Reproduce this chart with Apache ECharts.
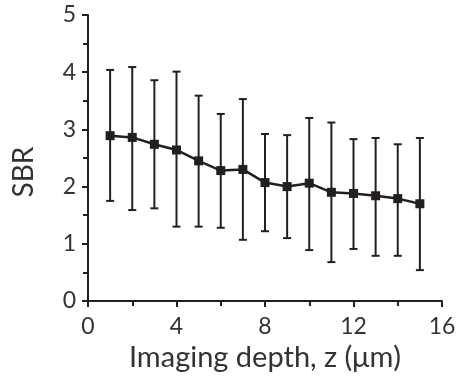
<!DOCTYPE html>
<html>
<head>
<meta charset="utf-8">
<script src="https://cdn.jsdelivr.net/npm/echarts@6/dist/echarts.min.js"></script>
<style>
  html, body { margin: 0; padding: 0; background: #fff; }
  #chart_container { width: 460px; height: 381px; }
</style>
</head>
<body>
<div id="chart_container"></div>
<script>
var depth = [1, 2, 3, 4, 5, 6, 7, 8, 9, 10, 11, 12, 13, 14, 15];
var sbrMean = [2.89, 2.86, 2.74, 2.64, 2.45, 2.28, 2.30, 2.07, 2.00, 2.06, 1.90, 1.88, 1.84, 1.79, 1.70];
var errHigh = [4.04, 4.09, 3.86, 4.01, 3.59, 3.27, 3.53, 2.92, 2.90, 3.20, 3.12, 2.83, 2.85, 2.74, 2.85];
var errLow = [1.75, 1.59, 1.62, 1.30, 1.30, 1.28, 1.07, 1.22, 1.10, 0.89, 0.68, 0.91, 0.79, 0.79, 0.54];

var ink = "#231f20";
var textColor = "#333333";
var fontName = "Lato";

var dom = document.getElementById("chart_container");
var myChart = echarts.init(dom, null, { renderer: "canvas" });

var meanData = depth.map(function (d, i) { return [d, sbrMean[i]]; });
var errData = depth.map(function (d, i) { return [d, errLow[i], errHigh[i]]; });

var option = {
  animation: false,
  grid: { left: 88, right: 18, top: 15, bottom: 80, outerBoundsMode: "none" },
  xAxis: {
    type: "value",
    min: 0,
    max: 16,
    interval: 4,
    name: "Imaging depth, z (\u03bcm)",
    nameLocation: "middle",
    nameGap: 39,
    nameTextStyle: { fontFamily: fontName, fontSize: 29, color: textColor },
    axisLine: { lineStyle: { color: ink, width: 2 } },
    axisTick: { inside: false, length: 6, lineStyle: { color: ink, width: 2 } },
    minorTick: { show: true, splitNumber: 2, length: 5, lineStyle: { color: ink, width: 2 } },
    axisLabel: { fontFamily: fontName, fontSize: 23, color: textColor, margin: 14 },
    splitLine: { show: false }
  },
  yAxis: {
    type: "value",
    min: 0,
    max: 5,
    interval: 1,
    name: "SBR",
    nameLocation: "middle",
    nameGap: 50,
    nameTextStyle: { fontFamily: fontName, fontSize: 28, color: textColor, padding: [0, 28, 0, 0] },
    axisLine: { show: true, lineStyle: { color: ink, width: 2 } },
    axisTick: { show: true, inside: false, length: 6, lineStyle: { color: ink, width: 2 } },
    minorTick: { show: true, splitNumber: 2, length: 5, lineStyle: { color: ink, width: 2 } },
    axisLabel: { fontFamily: fontName, fontSize: 23, color: textColor, margin: 12 },
    splitLine: { show: false }
  },
  series: [
    {
      type: "custom",
      data: errData,
      z: 2,
      renderItem: function (params, api) {
        var x = api.value(0);
        var lo = api.coord([x, api.value(1)]);
        var hi = api.coord([x, api.value(2)]);
        var cap = 4;
        var st = { stroke: ink, lineWidth: 2 };
        return {
          type: "group",
          children: [
            { type: "line", shape: { x1: lo[0], y1: lo[1], x2: hi[0], y2: hi[1] }, style: st },
            { type: "line", shape: { x1: lo[0] - cap, y1: lo[1], x2: lo[0] + cap, y2: lo[1] }, style: st },
            { type: "line", shape: { x1: hi[0] - cap, y1: hi[1], x2: hi[0] + cap, y2: hi[1] }, style: st }
          ]
        };
      }
    },
    {
      type: "line",
      data: meanData,
      z: 3,
      symbol: "rect",
      symbolSize: 9,
      lineStyle: { color: ink, width: 2.5 },
      itemStyle: { color: ink }
    }
  ]
};

myChart.setOption(option);
window.addEventListener("resize", myChart.resize);
</script>
</body>
</html>
